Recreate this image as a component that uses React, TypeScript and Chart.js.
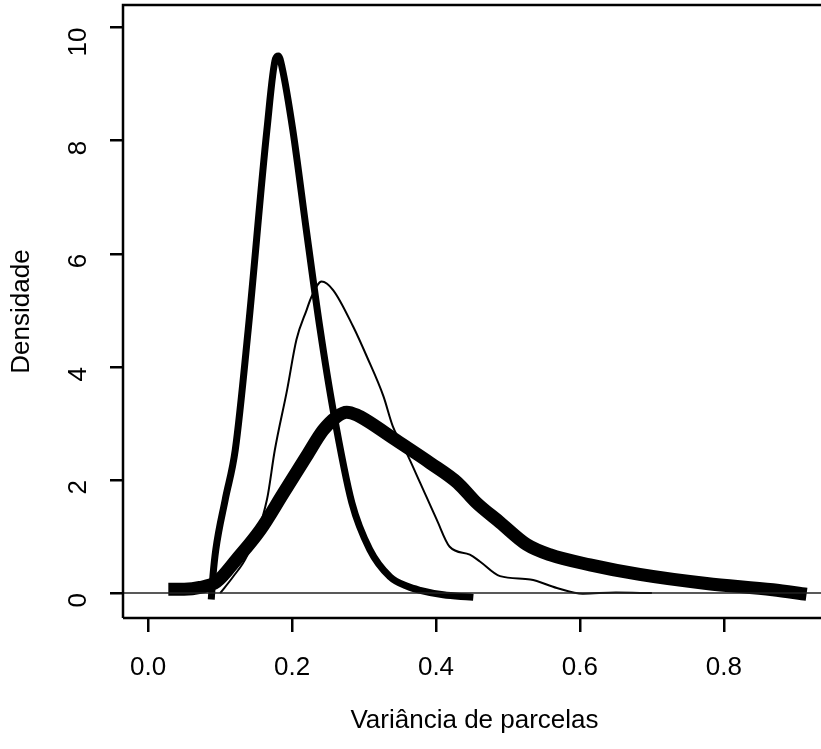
import React, { useEffect, useRef } from "react";
import { Chart, registerables } from "chart.js";

Chart.register(...registerables);

// Curve A: sharp, tall peak (medium-thick line)
const sharpX = [0.088, 0.09, 0.094, 0.107, 0.121, 0.139, 0.165, 0.177, 0.181, 0.186, 0.201, 0.22, 0.239, 0.257, 0.283, 0.308, 0.336, 0.36, 0.378, 0.41, 0.447];
const sharpY = [-0.05, 0.3, 0.77, 1.65, 2.53, 4.66, 8.19, 9.45, 9.5, 9.3, 8.19, 6.4, 4.66, 3.24, 1.6, 0.77, 0.29, 0.12, 0.05, -0.03, -0.07];

// Curve B: thin line, middle peak
const thinX = [0.1, 0.118, 0.137, 0.165, 0.176, 0.193, 0.206, 0.22, 0.227, 0.241, 0.257, 0.285, 0.304, 0.327, 0.34, 0.359, 0.378, 0.401, 0.419, 0.447, 0.461, 0.489, 0.531, 0.568, 0.604, 0.65, 0.7];
const thinY = [0.0, 0.29, 0.65, 1.65, 2.53, 3.59, 4.48, 5.0, 5.24, 5.51, 5.36, 4.71, 4.18, 3.48, 2.95, 2.48, 1.95, 1.3, 0.82, 0.68, 0.56, 0.3, 0.24, 0.09, -0.01, 0.01, 0.0];

// Curve C: very thick line, long right tail
const wideX = [0.028, 0.05, 0.072, 0.095, 0.123, 0.156, 0.188, 0.22, 0.243, 0.262, 0.276, 0.29, 0.304, 0.345, 0.392, 0.43, 0.456, 0.489, 0.526, 0.558, 0.614, 0.683, 0.776, 0.868, 0.915];
const wideY = [0.07, 0.07, 0.1, 0.2, 0.6, 1.12, 1.77, 2.42, 2.88, 3.12, 3.2, 3.15, 3.05, 2.7, 2.3, 1.95, 1.6, 1.25, 0.86, 0.68, 0.5, 0.33, 0.17, 0.06, -0.02];

const xTicks = [0.0, 0.2, 0.4, 0.6, 0.8];
const yTicks = [0, 2, 4, 6, 8, 10];

const xMin = -0.035;
const xMax = 0.942;
const yMin = -0.44;
const yMax = 10.4;

const toPts = (xs: number[], ys: number[]) => xs.map((x, i) => ({ x, y: ys[i] }));

const FONT = "'Liberation Sans', Arial, sans-serif";

const boxPlugin = {
  id: "boxPlugin",
  afterDraw(chart: any) {
    const { ctx, chartArea } = chart;
    ctx.save();
    ctx.strokeStyle = "#000";
    ctx.lineWidth = 2.5;
    ctx.beginPath();
    ctx.moveTo(chartArea.left, chartArea.bottom);
    ctx.lineTo(chartArea.left, chartArea.top);
    ctx.lineTo(chartArea.right, chartArea.top);
    ctx.stroke();
    ctx.beginPath();
    ctx.moveTo(chartArea.left, chartArea.bottom);
    ctx.lineTo(chartArea.right, chartArea.bottom);
    ctx.stroke();
    ctx.restore();
  },
};

export default function App() {
  const ref = useRef<HTMLCanvasElement | null>(null);
  useEffect(() => {
    if (!ref.current) return;
    const chart = new Chart(ref.current, {
      type: "line",
      data: {
        datasets: [
          {
            label: "zero",
            data: [
              { x: xMin, y: 0 },
              { x: xMax, y: 0 },
            ],
            borderColor: "#222",
            borderWidth: 1.5,
            pointRadius: 0,
          },
          {
            label: "A",
            data: toPts(sharpX, sharpY),
            borderColor: "#000",
            borderWidth: 7,
            pointRadius: 0,
            cubicInterpolationMode: "monotone",
            borderJoinStyle: "round",
            borderCapStyle: "square",
          },
          {
            label: "B",
            data: toPts(thinX, thinY),
            borderColor: "#000",
            borderWidth: 2,
            pointRadius: 0,
            cubicInterpolationMode: "monotone",
          },
          {
            label: "C",
            data: toPts(wideX, wideY),
            borderColor: "#000",
            borderWidth: 13,
            pointRadius: 0,
            cubicInterpolationMode: "monotone",
            borderJoinStyle: "round",
            borderCapStyle: "butt",
          },
        ],
      },
      options: {
        animation: false,
        responsive: false,
        devicePixelRatio: 1,
        layout: { padding: { left: 0, right: 4, top: 5, bottom: 0 } },
        plugins: {
          legend: { display: false },
          tooltip: { enabled: false },
        },
        scales: {
          x: {
            type: "linear",
            min: xMin,
            max: xMax,
            afterBuildTicks: (scale: any) => {
              scale.ticks = xTicks.map((v) => ({ value: v }));
            },
            afterFit: (scale: any) => {
              scale.height = 131;
              scale.paddingLeft = 0;
              scale.paddingRight = 0;
            },
            border: { display: false },
            grid: {
              display: true,
              drawOnChartArea: false,
              drawTicks: true,
              tickLength: 14,
              color: "#000",
              lineWidth: 2.5,
            },
            ticks: {
              color: "#000",
              font: { family: FONT, size: 26 },
              padding: 20,
              maxRotation: 0,
              minRotation: 0,
              callback: (v: any) => Number(v).toFixed(1),
            },
            title: {
              display: true,
              text: "Variância de parcelas",
              color: "#000",
              font: { family: FONT, size: 26 },
              padding: { top: 0, bottom: 13 },
            },
          },
          y: {
            type: "linear",
            min: yMin,
            max: yMax,
            afterBuildTicks: (scale: any) => {
              scale.ticks = yTicks.map((v) => ({ value: v }));
            },
            afterFit: (scale: any) => {
              scale.width = 123;
              scale.paddingTop = 0;
              scale.paddingBottom = 0;
            },
            border: { display: false },
            grid: {
              display: true,
              drawOnChartArea: false,
              drawTicks: true,
              tickLength: 13,
              color: "#000",
              lineWidth: 2.5,
            },
            ticks: {
              color: "#000",
              font: { family: FONT, size: 26 },
              padding: 31,
              minRotation: 90,
              maxRotation: 90,
              callback: (v: any) => String(v),
            },
            title: {
              display: true,
              text: "Densidade",
              color: "#000",
              font: { family: FONT, size: 26 },
              padding: { top: 6, bottom: 0 },
            },
          },
        },
      },
      plugins: [boxPlugin],
    });
    return () => chart.destroy();
  }, []);

  return (
    <div
      style={{
        position: "fixed",
        left: 0,
        top: 0,
        width: 821,
        height: 749,
        overflow: "hidden",
        background: "#fff",
      }}
    >
      <canvas ref={ref} width={830} height={749} style={{ display: "block" }} />
    </div>
  );
}
